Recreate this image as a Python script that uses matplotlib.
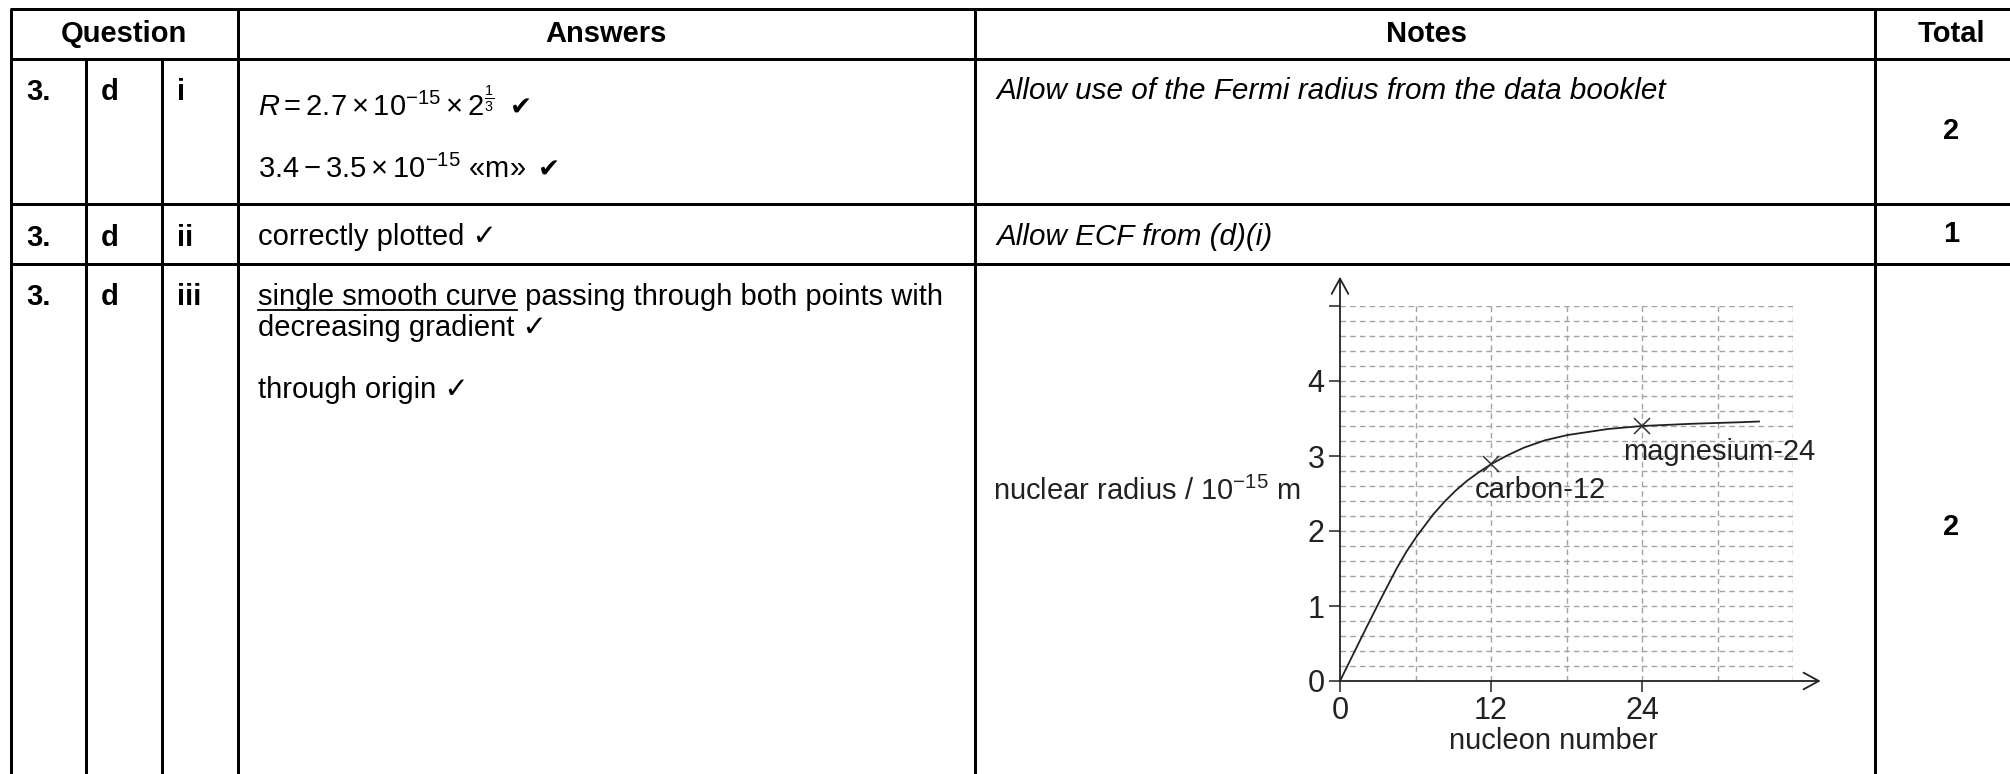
import numpy as np
import matplotlib
matplotlib.use('Agg')
import matplotlib.pyplot as plt

# fonts: Arial-like text, DejaVu only as fallback for the tick marks
plt.rcParams['font.family'] = ['Liberation Sans', 'DejaVu Sans']
plt.rcParams['mathtext.fontset'] = 'custom'
plt.rcParams['mathtext.rm'] = 'Liberation Sans'
plt.rcParams['mathtext.it'] = 'Liberation Sans:italic'
plt.rcParams['mathtext.bf'] = 'Liberation Sans:bold'

# table content
headers = ['Question', 'Answers', 'Notes', 'Total']
question_nums = ['3.', '3.', '3.']
question_parts = ['d', 'd', 'd']
question_subparts = ['i', 'ii', 'iii']
notes = ['Allow use of the Fermi radius from the data booklet', 'Allow ECF from (d)(i)', '']
totals = ['2', '1', '2']

# graph drawn in row iii
nucleon_ticks = [0, 12, 24]
radius_ticks = [0, 1, 2, 3, 4, 5]
radius_tick_labels = ['0', '1', '2', '3', '4', '']
curve_a = [0, 2, 3.2, 4.5, 5.3, 6.1, 7.4, 8.3, 9.2, 10.1, 11, 12, 13.2, 14.6, 16.3, 18.1, 21.3, 24, 28, 31.8, 33.3]
curve_r = [0, 0.68, 1.08, 1.50, 1.73, 1.93, 2.22, 2.39, 2.54, 2.67, 2.78, 2.89, 3.00, 3.11, 3.21, 3.28, 3.36, 3.40, 3.43, 3.45, 3.46]
point_names = ['carbon-12', 'magnesium-24']
point_a = [12, 24]
point_r = [2.9, 3.4]

W, H = 2010, 774
FS = 21
LW = 2.16

fig = plt.figure(figsize=(W / 100, H / 100), dpi=100)
bg = fig.add_axes([0, 0, 1, 1])
bg.set_xlim(0, W)
bg.set_ylim(H, 0)
bg.axis('off')

# table grid (pixel layout)
col_x = [11, 86, 162, 238, 975, 1875]
row_y = [9, 59, 204, 264]
for y in row_y:
    bg.plot([col_x[0] - 1, W], [y, y], color='black', lw=LW, solid_capstyle='butt')
for x in col_x:
    top = row_y[1] if x in (col_x[1], col_x[2]) else row_y[0]
    bg.plot([x, x], [top, H], color='black', lw=LW, solid_capstyle='butt')

# header row
head_cx = [124, 606, 1427, 1951]
for name, cx in zip(headers, head_cx):
    bg.text(cx, 34, name, ha='center', va='center', fontsize=FS, fontweight='bold')

# question columns
base_y = [100, 246, 305]
for num, part, sub, by in zip(question_nums, question_parts, question_subparts, base_y):
    bg.text(26, by, num, fontsize=FS, fontweight='bold', va='baseline')
    bg.text(101, by, part, fontsize=FS, fontweight='bold', va='baseline')
    bg.text(177, by, sub, fontsize=FS, fontweight='bold', va='baseline')

# answers
ax0 = 258
bg.text(ax0, 116, r'$R = 2.7\times10^{-15}\times2^{\frac{1}{3}}$', fontsize=FS, va='baseline')
bg.text(510, 116, '\u2714', fontsize=FS - 2, va='baseline', family='DejaVu Sans')
bg.text(ax0, 178, r'$3.4 - 3.5\times10^{-15}$ «m»', fontsize=FS, va='baseline')
bg.text(538, 178, '\u2714', fontsize=FS - 2, va='baseline', family='DejaVu Sans')
bg.text(ax0, 245, 'correctly plotted \u2713', fontsize=FS, va='baseline')

t_under = bg.text(ax0, 305, 'single smooth curve', fontsize=FS, va='baseline')
fig.canvas.draw()
bb = t_under.get_window_extent()
inv = bg.transData.inverted()
ux0, _ = inv.transform((bb.x0, bb.y0))
ux1, _ = inv.transform((bb.x1, bb.y0))
bg.plot([ux0, ux1], [310, 310], color='black', lw=1.3)
bg.text(ux1, 305, ' passing through both points with', fontsize=FS, va='baseline')
bg.text(ax0, 336, 'decreasing gradient \u2713', fontsize=FS, va='baseline')
bg.text(ax0, 398, 'through origin \u2713', fontsize=FS, va='baseline')

# notes
for note, by in zip(notes, [99, 245, 305]):
    bg.text(996, by, note, fontsize=FS + 0.3, style='italic', va='baseline')

# totals
for tot, cy in zip(totals, [131, 234, 527]):
    bg.text(1951, cy, tot, ha='center', va='center', fontsize=FS, fontweight='bold')

# embedded graph
ax = fig.add_axes([1340 / W, (H - 681) / H, 453 / W, 375 / H])
ax.set_xlim(0, 36)
ax.set_ylim(0, 5)
for s in ax.spines.values():
    s.set_visible(False)
ax.patch.set_alpha(0)

grid_kw = dict(color='#a3a3a3', lw=1.0, linestyles=(0, (4, 3)))
ax.hlines(np.arange(0.2, 5.01, 0.2), 0, 36, **grid_kw)
ax.vlines(np.arange(6, 37, 6), 0, 5, **grid_kw)

arrow_kw = dict(arrowstyle='->,head_length=0.55,head_width=0.3', lw=1.3, color='#222222',
                mutation_scale=20, shrinkA=0, shrinkB=0)
ax.annotate('', xy=(0, 5.39), xytext=(0, 0), arrowprops=arrow_kw, annotation_clip=False)
ax.annotate('', xy=(38.2, 0), xytext=(0, 0), arrowprops=arrow_kw, annotation_clip=False)

ax.plot(curve_a, curve_r, color='#222222', lw=1.3, clip_on=False, solid_joinstyle='round')
ax.plot(point_a, point_r, 'x', ms=12, mew=1.1, color='#333333', clip_on=False)
ax.annotate(point_names[0], (point_a[0], point_r[0]), xytext=(49, -26), textcoords='offset pixels',
            ha='center', va='center', fontsize=FS, color='#222222')
ax.annotate(point_names[1], (point_a[1], point_r[1]), xytext=(-19, -26), textcoords='offset pixels',
            ha='left', va='center', fontsize=FS, color='#222222')

ax.set_xticks(nucleon_ticks)
ax.set_yticks(radius_ticks, labels=radius_tick_labels)
ax.tick_params(direction='out', length=8, width=1.1, labelsize=FS + 1, pad=3, colors='#222222')

bg.text(1301, 491, 'nuclear radius / 10$^{-15}$ m', ha='right', va='center', fontsize=FS, color='#222222')
bg.text(1553, 741, 'nucleon number', ha='center', va='center', fontsize=FS, color='#222222')

fig.savefig('out.png', dpi=100)
